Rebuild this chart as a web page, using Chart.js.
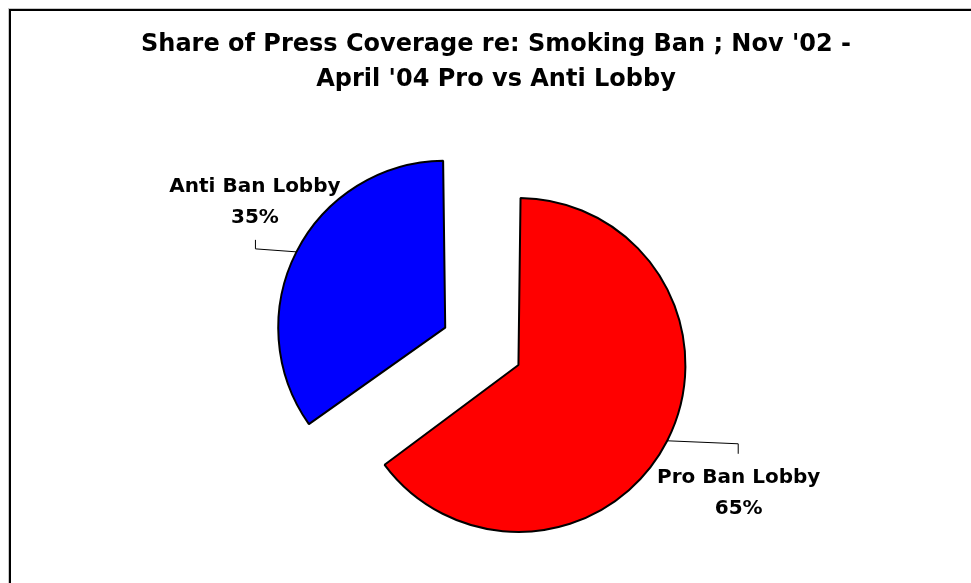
<!DOCTYPE html>
<html>
<head>
<meta charset="utf-8">
<script src="https://cdn.jsdelivr.net/npm/chart.js@4/dist/chart.umd.min.js"></script>
<style>
  html, body { margin: 0; padding: 0; background: #ffffff; }
  canvas { display: block; }
</style>
</head>
<body>
<canvas id="c" width="971" height="583"></canvas>
<script>
// ---- data ----
const categories = ['Pro Ban Lobby', 'Anti Ban Lobby'];
const shares = [65, 35];
const titleLines = ["Share of Press Coverage re: Smoking Ban ; Nov '02 -", "April '04 Pro vs Anti Lobby"];

// ---- style / layout ----
const sliceColors = ['#FF0000', '#0000FF'];
const sliceOffsets = [52.7, 276];        // explosion
const pieRadius = 153.8;
const leftSpacerWidth = 21.4;            // shifts plot area right of the title centre
// label placement relative to the slice edge point at mid-angle
const labelPlacement = [
  { corner: [71, 3], end: [71, 13], textDx: 71.5, baseDy: 42 },
  { corner: [-41, -3], end: [-41, -12], textDx: -41.5, baseDy: -60 }
];
const labelFont = 'bold 20px "DejaVu Sans"';
const labelLineGap = 31;

const spacerPlugin = {
  id: 'spacer',
  beforeInit(chart) {
    Chart.layouts.addBox(chart, {
      position: 'left',
      fullSize: false,
      weight: 0,
      options: {},
      width: 0, height: 0, left: 0, top: 0, right: 0, bottom: 0,
      isHorizontal() { return false; },
      update(maxWidth, maxHeight) { this.width = leftSpacerWidth; this.height = maxHeight; },
      getPadding() { return { top: 0, left: 0, right: 0, bottom: 0 }; },
      draw() {}
    });
  }
};

const framePlugin = {
  id: 'frame',
  beforeDraw(chart) {
    const ctx = chart.ctx;
    ctx.save();
    ctx.fillStyle = '#ffffff';
    ctx.fillRect(0, 0, chart.width, chart.height);
    ctx.fillStyle = '#c8c8c8';
    ctx.fillRect(8, 8, chart.width, 1);
    ctx.fillRect(8, 8, 1, chart.height);
    ctx.fillStyle = '#000000';
    ctx.fillRect(9, 9, chart.width, 2);
    ctx.fillRect(9, 9, 2, chart.height);
    ctx.restore();
  }
};

const labelPlugin = {
  id: 'sliceLabels',
  afterDatasetsDraw(chart) {
    const ctx = chart.ctx;
    const meta = chart.getDatasetMeta(0);
    const total = shares.reduce((a, b) => a + b, 0);
    meta.data.forEach((arc, i) => {
      const p = arc.getProps(['x', 'y', 'startAngle', 'endAngle', 'outerRadius', 'circumference'], true);
      const off = (arc.options.offset || 0) / 4;
      const fix = 1 - Math.sin(Math.min(Math.PI, p.circumference));
      const r = p.outerRadius + off * fix;
      const h = (p.startAngle + p.endAngle) / 2;
      const ex = p.x + Math.cos(h) * (off + r);
      const ey = p.y + Math.sin(h) * (off + r);
      const lp = labelPlacement[i];
      ctx.save();
      ctx.strokeStyle = '#000000';
      ctx.lineWidth = 1;
      ctx.beginPath();
      ctx.moveTo(ex, ey);
      ctx.lineTo(ex + lp.corner[0], ey + lp.corner[1]);
      ctx.lineTo(ex + lp.end[0], ey + lp.end[1]);
      ctx.stroke();
      ctx.fillStyle = '#000000';
      ctx.font = labelFont;
      ctx.textAlign = 'center';
      ctx.textBaseline = 'alphabetic';
      const tx = ex + lp.textDx;
      const ty = ey + lp.baseDy;
      ctx.fillText(categories[i], tx, ty);
      ctx.fillText(Math.round(shares[i] / total * 100) + '%', tx, ty + labelLineGap);
      ctx.restore();
    });
  }
};

new Chart(document.getElementById('c'), {
  type: 'pie',
  data: {
    labels: categories,
    datasets: [{
      data: shares,
      backgroundColor: sliceColors,
      borderColor: '#000000',
      borderWidth: 2,
      offset: sliceOffsets,
      hoverOffset: 0
    }]
  },
  options: {
    responsive: false,
    animation: false,
    radius: pieRadius,
    layout: { padding: { left: 21, right: 0, top: 0, bottom: 0 } },
    plugins: {
      legend: { display: false },
      tooltip: { enabled: false },
      title: {
        display: true,
        text: titleLines,
        color: '#000000',
        font: { family: 'DejaVu Sans', size: 24, weight: 'bold', lineHeight: 35 / 24 },
        padding: { top: 27, bottom: 38 }
      }
    }
  },
  plugins: [spacerPlugin, framePlugin, labelPlugin]
});
</script>
</body>
</html>
